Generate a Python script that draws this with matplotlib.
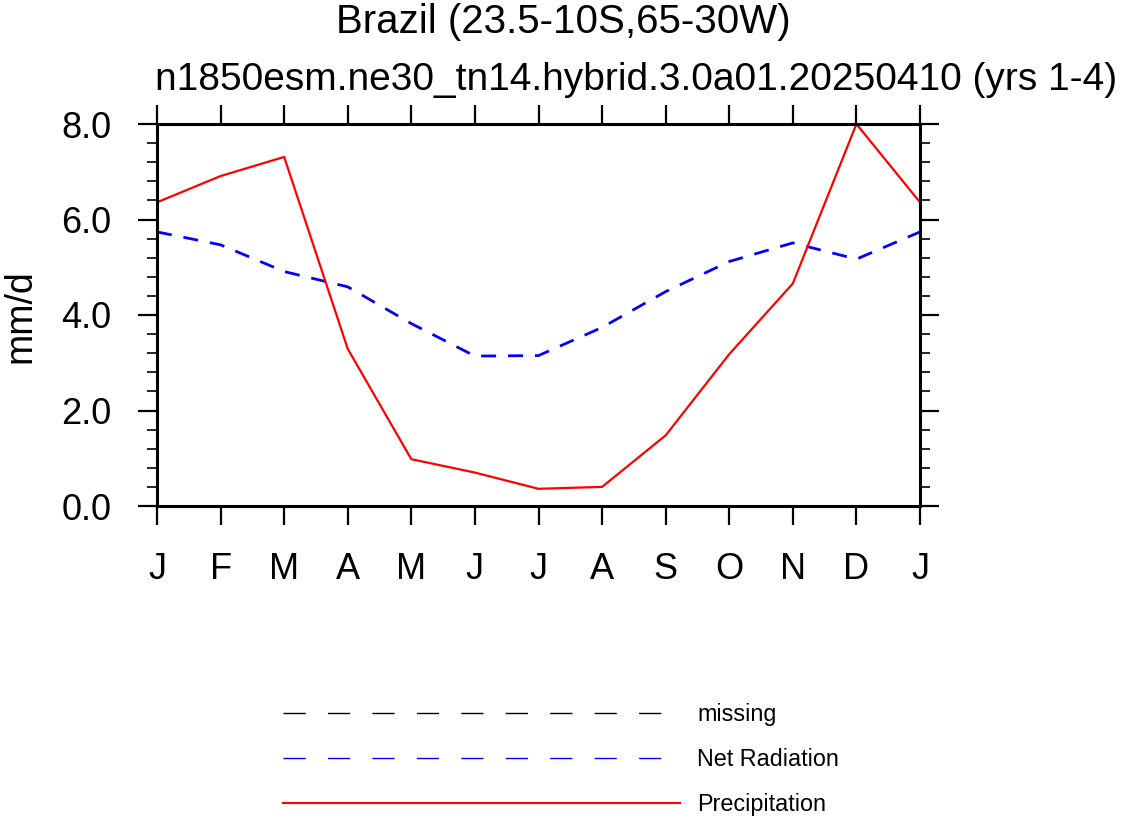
import numpy as np
import matplotlib
matplotlib.use('Agg')
import matplotlib.pyplot as plt
from matplotlib.lines import Line2D
from matplotlib.ticker import MultipleLocator

plt.rcParams['font.family'] = ['Liberation Sans', 'DejaVu Sans']

# monthly climatology, Jan..Dec then Jan again
months = ['J', 'F', 'M', 'A', 'M', 'J', 'J', 'A', 'S', 'O', 'N', 'D', 'J']
precip = [6.36, 6.91, 7.31, 3.29, 0.98, 0.70, 0.36, 0.40, 1.48, 3.18, 4.66, 8.00, 6.36]
netrad = [5.74, 5.47, 4.91, 4.59, 3.82, 3.14, 3.15, 3.74, 4.49, 5.12, 5.51, 5.17, 5.74]
title1 = 'Brazil (23.5-10S,65-30W)'
title2 = 'n1850esm.ne30_tn14.hybrid.3.0a01.20250410 (yrs 1-4)'

W, H = 1123, 818
fig = plt.figure(figsize=(W/100, H/100), dpi=100)
ax = fig.add_axes([157/W, 1-506/H, (920-157)/W, (506-124)/H])

x = np.arange(len(months))
ax.plot(x, netrad, color='blue', lw=2.0, dashes=(5.4, 4.3))
ax.plot(x, precip, color='red', lw=1.6)

ax.set_xlim(0, 12)
ax.set_ylim(0, 8)
ax.set_xticks(x)
ax.set_xticklabels(months)
ax.yaxis.set_major_locator(MultipleLocator(2))
ax.yaxis.set_minor_locator(MultipleLocator(0.4))
ax.yaxis.set_major_formatter('{x:.1f}')

for s in ax.spines.values():
    s.set_linewidth(2.2)
ax.tick_params(axis='both', which='major', direction='out', length=14, width=1.6,
               top=True, right=True, labelsize=26, pad=19)
ax.tick_params(axis='y', which='minor', direction='out', length=7, width=1.2,
               left=True, right=True)

fig.text(563/W, 1-22/H, title1, ha='center', va='center', fontsize=29)
fig.text(636/W, 1-80/H, title2, ha='center', va='center', fontsize=28)
fig.text(20/W, 1-316/H, 'mm/d', rotation=90, ha='center', va='center', fontsize=27)

handles = [
    Line2D([], [], color='black', lw=1.0, dashes=(16, 16)),
    Line2D([], [], color='blue', lw=1.0, dashes=(16, 16)),
    Line2D([], [], color='red', lw=1.5),
]
labels = ['missing', 'Net Radiation', 'Precipitation']
fig.legend(handles, labels, loc='upper left', bbox_to_anchor=(283/W, 1-703/H),
           frameon=False, fontsize=16.8, handlelength=17.0, handletextpad=0.75,
           labelspacing=0.95, borderpad=0, borderaxespad=0)

fig.savefig('out.png', dpi=100)
